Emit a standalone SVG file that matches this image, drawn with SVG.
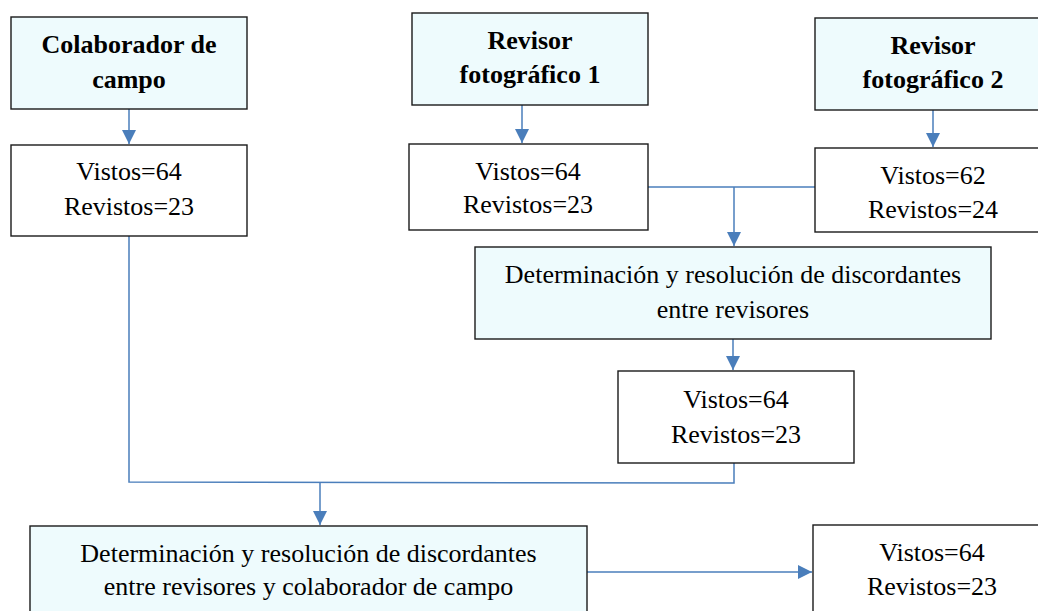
<svg xmlns="http://www.w3.org/2000/svg" width="1038" height="611" viewBox="0 0 1038 611">
<defs>
<style>
.box{stroke:#1a1a1a;stroke-width:1.4;}
.hl{fill:#eefbfd;}
.pl{fill:#ffffff;}
.t{font-family:"Liberation Serif","Times New Roman",serif;font-size:26px;fill:#000;text-anchor:middle;}
.b{font-weight:bold;}
.c{fill:none;stroke:#4a7ebb;stroke-width:1.5;}
</style>
<marker id="ah" markerUnits="userSpaceOnUse" markerWidth="15" markerHeight="15" refX="14" refY="7" orient="auto">
<path d="M0,0 L14,7 L0,14 z" fill="#4a7ebb"/>
</marker>
</defs>
<rect width="1038" height="611" fill="#fff"/>
<g id="connectors">
<line class="c" x1="129" y1="109" x2="129" y2="144" marker-end="url(#ah)"/>
<line class="c" x1="522" y1="105" x2="522" y2="143" marker-end="url(#ah)"/>
<line class="c" x1="933" y1="110" x2="933" y2="147" marker-end="url(#ah)"/>
<polyline class="c" points="648,187 815,187"/>
<line class="c" x1="734" y1="187" x2="734" y2="246" marker-end="url(#ah)"/>
<line class="c" x1="733" y1="339" x2="733" y2="370" marker-end="url(#ah)"/>
<polyline class="c" points="129,236 129,482 734,483 734,463"/>
<line class="c" x1="320" y1="482" x2="320" y2="525" marker-end="url(#ah)"/>
<line class="c" x1="587" y1="572" x2="812" y2="572" marker-end="url(#ah)"/>
</g>
<g id="colaborador">
<rect class="box hl" x="11" y="17" width="236" height="92"/>
<text class="t b" x="129" y="53">Colaborador de</text>
<text class="t b" x="129" y="88">campo</text>
</g>
<g id="colaborador-res">
<rect class="box pl" x="11" y="145" width="236" height="91"/>
<text class="t" x="129" y="180">Vistos=64</text>
<text class="t" x="129" y="215">Revistos=23</text>
</g>
<g id="revisor1">
<rect class="box hl" x="412" y="13" width="236" height="92"/>
<text class="t b" x="530" y="49">Revisor</text>
<text class="t b" x="530" y="83">fotográfico 1</text>
</g>
<g id="revisor1-res">
<rect class="box pl" x="409" y="144" width="239" height="86"/>
<text class="t" x="528" y="180">Vistos=64</text>
<text class="t" x="528" y="213">Revistos=23</text>
</g>
<g id="revisor2">
<rect class="box hl" x="815" y="18" width="236" height="92"/>
<text class="t b" x="933" y="54">Revisor</text>
<text class="t b" x="933" y="88">fotográfico 2</text>
</g>
<g id="revisor2-res">
<rect class="box pl" x="815" y="148" width="236" height="84"/>
<text class="t" x="933" y="184">Vistos=62</text>
<text class="t" x="933" y="218">Revistos=24</text>
</g>
<g id="discordantes1">
<rect class="box hl" x="475" y="247" width="516" height="92"/>
<text class="t" x="733" y="283">Determinación y resolución de discordantes</text>
<text class="t" x="733" y="318">entre revisores</text>
</g>
<g id="discordantes1-res">
<rect class="box pl" x="618" y="371" width="236" height="92"/>
<text class="t" x="736" y="408">Vistos=64</text>
<text class="t" x="736" y="443">Revistos=23</text>
</g>
<g id="discordantes2">
<rect class="box hl" x="30" y="526" width="557" height="92"/>
<text class="t" x="308.5" y="562">Determinación y resolución de discordantes</text>
<text class="t" x="308.5" y="595">entre revisores y colaborador de campo</text>
</g>
<g id="final-res">
<rect class="box pl" x="813" y="525" width="238" height="92"/>
<text class="t" x="932" y="561">Vistos=64</text>
<text class="t" x="932" y="595">Revistos=23</text>
</g>
</svg>
